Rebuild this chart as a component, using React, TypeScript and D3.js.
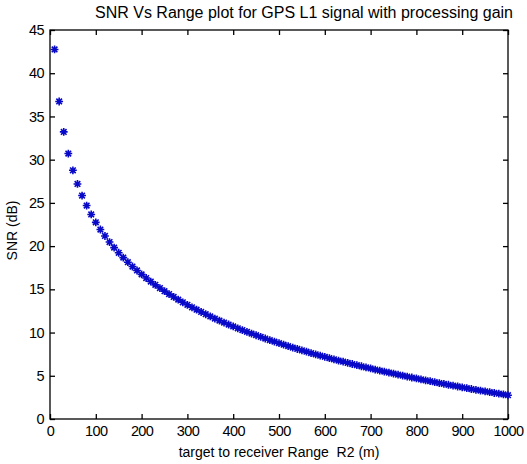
import { useEffect, useRef } from 'react';
import * as d3 from 'd3';

// target-to-receiver range R2 (m)
const ranges = [
  10, 20, 30, 40, 50, 60, 70, 80, 90, 100,
  110, 120, 130, 140, 150, 160, 170, 180, 190, 200,
  210, 220, 230, 240, 250, 260, 270, 280, 290, 300,
  310, 320, 330, 340, 350, 360, 370, 380, 390, 400,
  410, 420, 430, 440, 450, 460, 470, 480, 490, 500,
  510, 520, 530, 540, 550, 560, 570, 580, 590, 600,
  610, 620, 630, 640, 650, 660, 670, 680, 690, 700,
  710, 720, 730, 740, 750, 760, 770, 780, 790, 800,
  810, 820, 830, 840, 850, 860, 870, 880, 890, 900,
  910, 920, 930, 940, 950, 960, 970, 980, 990, 1000,
];

// SNR (dB)
const snr = [
  42.75, 36.73, 33.21, 30.71, 28.77, 27.19, 25.85, 24.69, 23.66, 22.75,
  21.92, 21.17, 20.47, 19.83, 19.23, 18.67, 18.14, 17.64, 17.18, 16.73,
  16.31, 15.90, 15.52, 15.15, 14.79, 14.45, 14.12, 13.81, 13.50, 13.21,
  12.92, 12.65, 12.38, 12.12, 11.87, 11.62, 11.39, 11.15, 10.93, 10.71,
  10.49, 10.29, 10.08, 9.88, 9.69, 9.50, 9.31, 9.12, 8.95, 8.77,
  8.60, 8.43, 8.26, 8.10, 7.94, 7.79, 7.63, 7.48, 7.33, 7.19,
  7.04, 6.90, 6.76, 6.63, 6.49, 6.36, 6.23, 6.10, 5.97, 5.85,
  5.72, 5.60, 5.48, 5.37, 5.25, 5.13, 5.02, 4.91, 4.80, 4.69,
  4.58, 4.47, 4.37, 4.26, 4.16, 4.06, 3.96, 3.86, 3.76, 3.66,
  3.57, 3.47, 3.38, 3.29, 3.20, 3.10, 3.01, 2.93, 2.84, 2.75,
];

const xTicks = [0, 100, 200, 300, 400, 500, 600, 700, 800, 900, 1000];
const yTicks = [0, 5, 10, 15, 20, 25, 30, 35, 40, 45];

const FONT = '"Liberation Sans", Arial, sans-serif';

export default function App() {
  const svgRef = useRef<SVGSVGElement | null>(null);

  useEffect(() => {
    const el = svgRef.current;
    if (!el) return;
    const width = 527;
    const height = 464;
    const margin = { top: 30, right: 19, bottom: 45, left: 50 };
    const W = width - margin.left - margin.right;
    const H = height - margin.top - margin.bottom;

    const svg = d3.select(el);
    svg.selectAll('*').remove();

    const g = svg.append('g').attr('transform', `translate(${margin.left},${margin.top})`);

    const x = d3.scaleLinear().domain([0, 1000]).range([0, W]);
    const y = d3.scaleLinear().domain([0, 45]).range([H, 0]);

    // box
    g.append('rect')
      .attr('x', 0).attr('y', 0).attr('width', W).attr('height', H)
      .attr('fill', '#fff').attr('stroke', '#000').attr('stroke-width', 1.3);

    const styleAxis = (sel: any) => {
      sel.select('.domain').remove();
      sel.selectAll('line').attr('stroke', '#000').attr('stroke-width', 1.3);
      sel.selectAll('text')
        .attr('fill', '#000')
        .attr('font-size', '14.5px')
        .attr('font-family', FONT)
        .attr('letter-spacing', '-0.6px');
    };

    // bottom axis with labels
    const xb = g.append('g').attr('transform', `translate(0,${H})`)
      .call(d3.axisBottom(x).tickValues(xTicks).tickFormat(d3.format('d')).tickSizeInner(-5).tickSizeOuter(0).tickPadding(7))
      .call(styleAxis);
    xb.selectAll('text').attr('dy', '0.71em').attr('y', 7);

    g.append('g')
      .call(d3.axisTop(x).tickValues(xTicks).tickSizeInner(-5).tickSizeOuter(0).tickFormat(() => ''))
      .call(styleAxis);

    g.append('g')
      .call(d3.axisLeft(y).tickValues(yTicks).tickFormat(d3.format('d')).tickSizeInner(-5).tickSizeOuter(0).tickPadding(6))
      .call(styleAxis);

    g.append('g').attr('transform', `translate(${W},0)`)
      .call(d3.axisRight(y).tickValues(yTicks).tickSizeInner(-5).tickSizeOuter(0).tickFormat(() => ''))
      .call(styleAxis);

    // '*' markers
    const r = 3.9;
    const k = r * 0.72;
    const star = `M${-r},0L${r},0M0,${-r}L0,${r}M${-k},${-k}L${k},${k}M${-k},${k}L${k},${-k}`;
    g.append('g')
      .selectAll('path')
      .data(ranges.map((d, i) => ({ range: d, snr: snr[i] })))
      .join('path')
      .attr('transform', (d) => `translate(${x(d.range)},${y(d.snr)})`)
      .attr('d', star)
      .attr('fill', 'none')
      .attr('stroke', '#0808c8')
      .attr('stroke-width', 1.6);

    // title
    svg.append('text')
      .attr('x', 304).attr('y', 18)
      .attr('text-anchor', 'middle')
      .attr('font-size', '16px')
      .attr('font-family', FONT)
      .attr('fill', '#000')
      .text('SNR Vs Range plot for GPS L1 signal with processing gain');

    // x label
    svg.append('text')
      .attr('x', margin.left + W / 2).attr('y', 457)
      .attr('text-anchor', 'middle')
      .attr('font-size', '14px')
      .attr('font-family', FONT)
      .attr('fill', '#000')
      .style('white-space', 'pre')
      .text('target to receiver Range  R2 (m)');

    // y label
    svg.append('text')
      .attr('transform', `translate(17,${margin.top + H / 2 + 6}) rotate(-90)`)
      .attr('text-anchor', 'middle')
      .attr('font-size', '14px')
      .attr('font-family', FONT)
      .attr('fill', '#000')
      .text('SNR (dB)');
  }, []);

  return (
    <div style={{ position: 'absolute', left: 0, top: 0 }}>
      <svg ref={svgRef} width={527} height={464} style={{ display: 'block', background: '#fff' }} />
    </div>
  );
}
